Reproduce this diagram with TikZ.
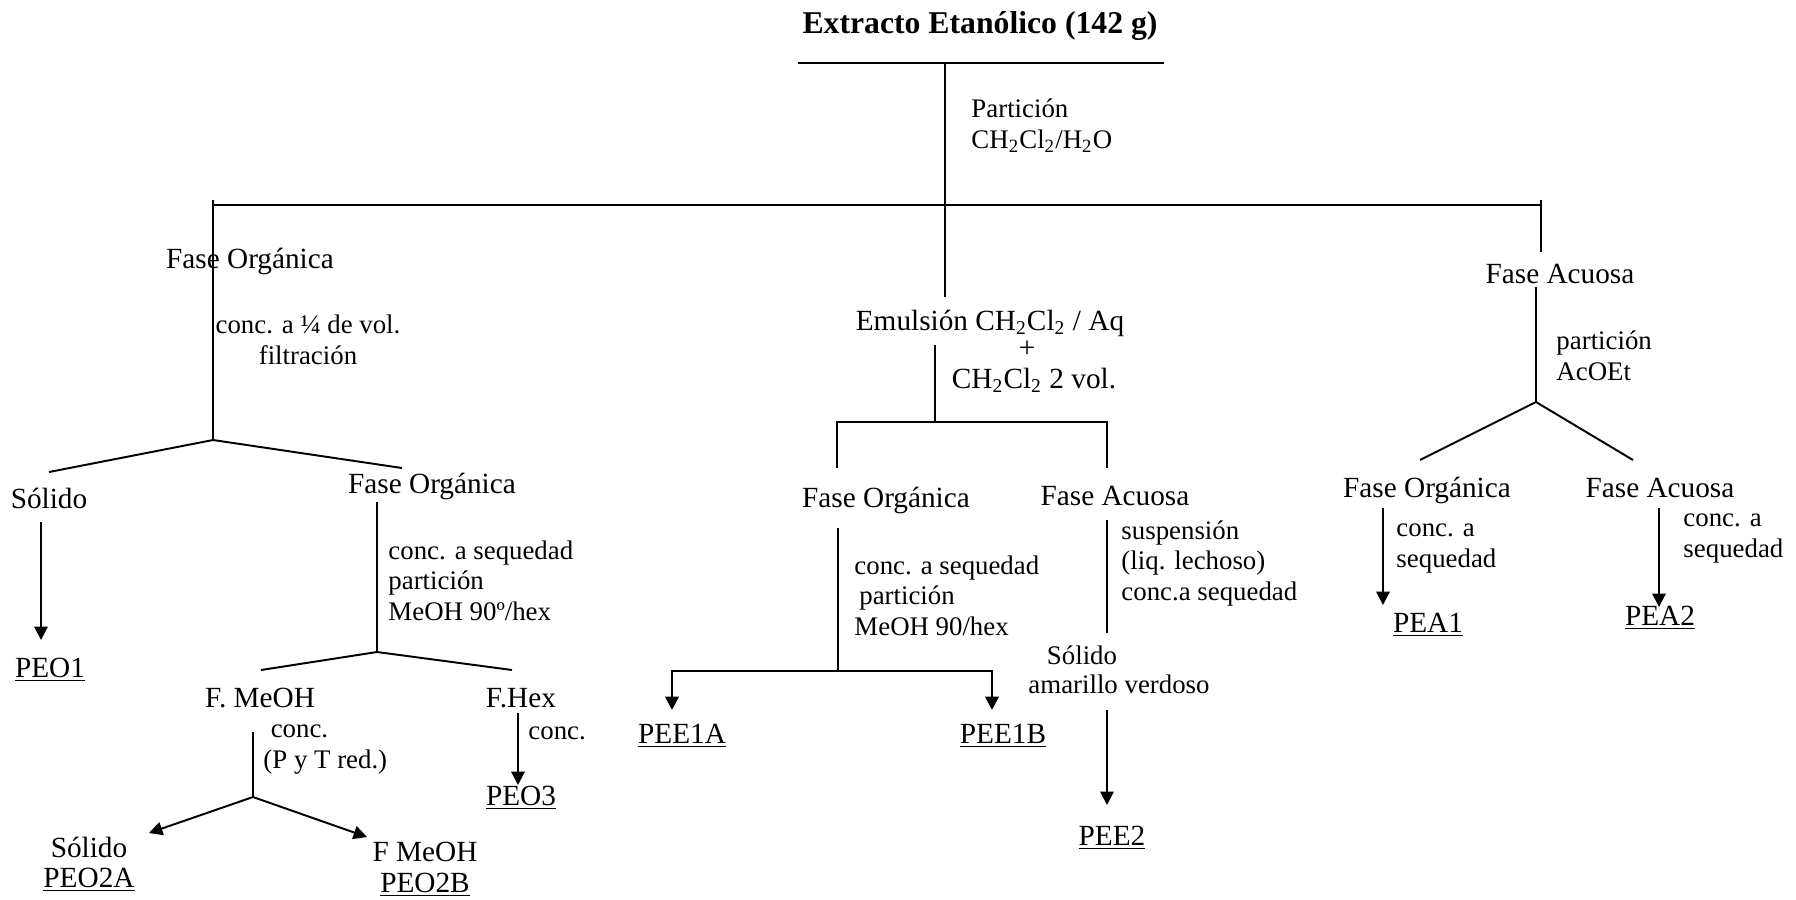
\documentclass[tikz,border=0pt]{standalone}
\usepackage{fontspec}
\setmainfont{Liberation Serif}
\usetikzlibrary{arrows.meta}

\begin{document}
\begin{tikzpicture}[x=0.41pt,y=0.41pt,yscale=-1,xscale=1,
	lbl/.style={inner sep=0pt,anchor=base,font=\fontsize{12}{14}\selectfont},
	note/.style={inner sep=0pt,anchor=base west,align=left,font=\fontsize{11}{12.5}\selectfont},
	ln/.style={line width=0.8pt},
	tip/.style={line width=0.8pt,-{Triangle[length=5.5pt,width=5.5pt]}}]
	\useasboundingbox (0,0) rectangle (1796,899);

	% Text Node
	\node[lbl,font=\fontsize{13}{15}\selectfont\bfseries] (ext) at (980,33) {Extracto Etanólico (142 g)};
	% Text Node (multi-line notes sit on their last line)
	\node[note] (part) at (971,148) {Partición\\CH\textsubscript{2}Cl\textsubscript{2}/H\textsubscript{2}O};

	%Straight Lines
	\coordinate (t1) at (798,63);
	\coordinate (t2) at (1164,63);
	\coordinate (tm) at (945,63);
	\draw[ln] (t1) -- (t2) ;
	%Straight Lines
	\coordinate (e1) at (945,297);
	\draw[ln] (tm) -- (e1) ;
	%Straight Lines
	\coordinate (h0) at (213,200);
	\coordinate (h1) at (213,205);
	\coordinate (h2) at (1541,205);
	\coordinate (h3) at (1541,200);
	\draw[ln] (h1) -- (h2) ;

	% Text Node
	\node[lbl] (fo) at (250,268) {Fase Orgánica};
	% Text Node
	\node[note,align=center,anchor=base] (filt) at (308,364) {conc. a ¼ de vol.\\filtración};
	%Straight Lines
	\coordinate (l1) at (213,440);
	\coordinate (l2) at (49,472);
	\coordinate (l3) at (402,468);
	\draw[ln] (h0) -- (l1) ;
	\draw[ln] (l2) -- (l1) -- (l3) ;

	% Text Node
	\node[lbl] (sol) at (49,508) {Sólido};
	% Text Node
	\node[lbl] (fo2) at (432,493) {Fase Orgánica};
	% Text Node
	\node[lbl] (peo1) at (50,677) {\underline{PEO1}};
	%Straight Lines
	\coordinate (s1) at (41,522);
	\coordinate (s2) at (41,640);
	\draw[tip] (s1) -- (s2) ;

	% Text Node
	\node[note] (sec) at (388,620) {conc. a sequedad\\partición\\MeOH 90º/hex};
	%Straight Lines
	\coordinate (o1) at (377,502);
	\coordinate (o2) at (377,652);
	\coordinate (o3) at (261,670);
	\coordinate (o4) at (512,670);
	\draw[ln] (o1) -- (o2) ;
	\draw[ln] (o3) -- (o2) -- (o4) ;

	% Text Node
	\node[lbl] (fmeoh) at (260,707) {F. MeOH};
	% Text Node
	\node[lbl] (fhex) at (521,707) {F.Hex};
	% Text Node
	\node[note] (red) at (263,768) {\hspace{3pt}conc.\\(P y T red.)};
	% Text Node
	\node[note] (conc) at (528,739) {conc.};
	%Straight Lines
	\coordinate (m1) at (253,732);
	\coordinate (m2) at (253,797);
	\coordinate (m3) at (149,833);
	\coordinate (m4) at (367,837);
	\draw[ln] (m1) -- (m2) ;
	\draw[tip] (m2) -- (m3) ;
	\draw[tip] (m2) -- (m4) ;
	%Straight Lines
	\coordinate (x1) at (518,713);
	\coordinate (x2) at (518,785);
	\draw[tip] (x1) -- (x2) ;

	% Text Node
	\node[lbl] (peo3) at (521,805) {\underline{PEO3}};
	% Text Node
	\node[lbl] (sol2) at (89,857) {Sólido};
	% Text Node
	\node[lbl] (peo2a) at (89,887) {\underline{PEO2A}};
	% Text Node
	\node[lbl] (fm2) at (425,861) {F MeOH};
	% Text Node
	\node[lbl] (peo2b) at (425,892) {\underline{PEO2B}};

	% Text Node
	\node[lbl] (emu) at (990,330) {Emulsión CH\textsubscript{2}Cl\textsubscript{2} / Aq};
	% Text Node
	\node[lbl] (plus) at (1027,357) {+};
	% Text Node
	\node[lbl] (vol) at (1034,388) {CH\textsubscript{2}Cl\textsubscript{2} 2 vol.};
	%Straight Lines
	\coordinate (b1) at (935,345);
	\coordinate (b2) at (935,422);
	\coordinate (b3) at (837,422);
	\coordinate (b4) at (1107,422);
	\coordinate (b5) at (837,468);
	\coordinate (b6) at (1107,468);
	\draw[ln] (b1) -- (b2) ;
	\draw[ln] (b5) -- (b3) -- (b4) -- (b6) ;

	% Text Node
	\node[lbl] (fo3) at (886,507) {Fase Orgánica};
	% Text Node
	\node[lbl] (fa3) at (1115,505) {Fase Acuosa};
	% Text Node
	\node[note] (sec2) at (854,635) {conc. a sequedad\\\hspace{2pt}partición\\MeOH 90/hex};
	%Straight Lines
	\coordinate (g1) at (838,528);
	\coordinate (g2) at (838,671);
	\coordinate (g3) at (672,671);
	\coordinate (g4) at (992,671);
	\coordinate (g5) at (672,710);
	\coordinate (g6) at (992,710);
	\draw[ln] (g1) -- (g2) ;
	\draw[line width=1.1pt,{Triangle[length=5.5pt,width=5.5pt]}-{Triangle[length=5.5pt,width=5.5pt]}] (g5) -- (g3) -- (g4) -- (g6) ;

	% Text Node
	\node[lbl] (pee1a) at (682,743) {\underline{PEE1A}};
	% Text Node
	\node[lbl] (pee1b) at (1003,743) {\underline{PEE1B}};

	% Text Node
	\node[note] (susp) at (1121,600) {suspensión\\(liq. lechoso)\\conc.a sequedad};
	%Straight Lines
	\coordinate (q1) at (1107,520);
	\coordinate (q2) at (1107,633);
	\draw[ln] (q1) -- (q2) ;
	% Text Node
	\node[note,anchor=base] (sol3) at (1082,664) {Sólido};
	% Text Node
	\node[note,anchor=base] (amv) at (1119,693) {amarillo verdoso};
	%Straight Lines
	\coordinate (q3) at (1107,710);
	\coordinate (q4) at (1107,805);
	\draw[tip] (q3) -- (q4) ;
	% Text Node
	\node[lbl] (pee2) at (1112,845) {\underline{PEE2}};

	%Straight Lines
	\coordinate (r1) at (1541,252);
	\draw[ln] (h3) -- (r1) ;
	% Text Node
	\node[lbl] (fa) at (1560,283) {Fase Acuosa};
	% Text Node
	\node[note] (acoet) at (1556,380) {partición\\AcOEt};
	%Straight Lines
	\coordinate (r2) at (1536,287);
	\coordinate (r3) at (1536,402);
	\coordinate (r4) at (1420,460);
	\coordinate (r5) at (1633,460);
	\draw[ln] (r2) -- (r3) ;
	\draw[ln] (r4) -- (r3) -- (r5) ;

	% Text Node
	\node[lbl] (fo4) at (1427,497) {Fase Orgánica};
	% Text Node
	\node[lbl] (fa4) at (1660,497) {Fase Acuosa};
	% Text Node
	\node[note] (sq1) at (1396,567) {conc. a\\sequedad};
	% Text Node
	\node[note] (sq2) at (1683,557) {conc. a\\sequedad};
	%Straight Lines
	\coordinate (a1) at (1383,508);
	\coordinate (a2) at (1383,605);
	\draw[tip] (a1) -- (a2) ;
	%Straight Lines
	\coordinate (a3) at (1659,508);
	\coordinate (a4) at (1659,607);
	\draw[tip] (a3) -- (a4) ;
	% Text Node
	\node[lbl] (pea1) at (1428,632) {\underline{PEA1}};
	% Text Node
	\node[lbl] (pea2) at (1660,625) {\underline{PEA2}};
\end{tikzpicture}
\end{document}
